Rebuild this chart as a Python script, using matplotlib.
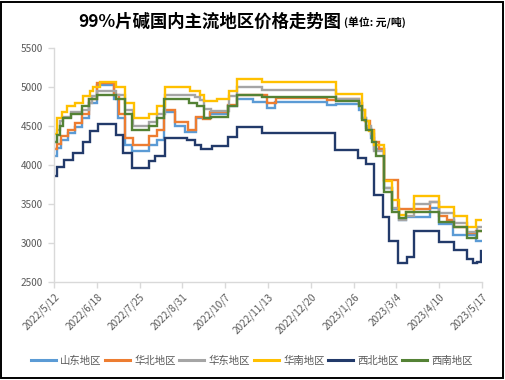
import numpy as np
import pandas as pd
import matplotlib
matplotlib.use("Agg")
import matplotlib.pyplot as plt
import matplotlib.dates as mdates
from matplotlib.patches import Rectangle
from matplotlib.transforms import ScaledTranslation

plt.rcParams['font.family'] = ['Noto Sans CJK SC', 'DejaVu Sans']

# ---------------- data ----------------
start_date = "2022-05-12"
end_date = "2023-05-17"
tick_dates = ["2022-05-12", "2022-06-18", "2022-07-25", "2022-08-31", "2022-10-07",
              "2022-11-13", "2022-12-20", "2023-01-26", "2023-03-04", "2023-04-10",
              "2023-05-17"]
tick_labels = ["2022/5/12", "2022/6/18", "2022/7/25", "2022/8/31", "2022/10/7",
               "2022/11/13", "2022/12/20", "2023/1/26", "2023/3/4", "2023/4/10",
               "2023/5/17"]
y_ticks = [2500, 3000, 3500, 4000, 4500, 5000, 5500]

series_names = ["山东地区", "华北地区", "华东地区", "华南地区", "西北地区", "西南地区"]

# price change points: day offset from 2022-05-12, new price (元/吨)
shandong_days = [0, 3, 6, 12, 18, 24, 30, 37, 52, 55, 61, 67, 82, 89, 95, 105, 113, 123,
                 135, 150, 158, 172, 184, 191, 236, 244, 264, 266, 270, 274, 277, 285,
                 292, 298, 304, 325, 333, 345, 365]
shandong_price = [4120, 4220, 4320, 4410, 4490, 4600, 4800, 5020, 4850, 4600, 4250, 4180,
                  4250, 4320, 4680, 4500, 4420, 4600, 4660, 4750, 4850, 4810, 4730, 4810,
                  4765, 4780, 4700, 4600, 4480, 4350, 4200, 3700, 3430, 3300, 3330, 3450,
                  3240, 3100, 3030]

huabei_days = [0, 3, 6, 12, 18, 24, 30, 37, 52, 56, 61, 68, 82, 89, 95, 105, 116, 123,
               129, 135, 150, 158, 184, 192, 236, 244, 264, 266, 269, 273, 277, 281, 285,
               297, 325, 333, 340, 346, 357, 365]
huabei_price = [4200, 4270, 4370, 4450, 4540, 4660, 4840, 5050, 4900, 4650, 4350, 4260,
                4370, 4450, 4700, 4550, 4450, 4620, 4590, 4680, 4770, 4900, 4790, 4860,
                4830, 4840, 4800, 4700, 4560, 4450, 4300, 4200, 3810, 3440, 3530, 3340,
                3300, 3200, 3130, 3150]

huadong_days = [0, 3, 5, 8, 15, 24, 30, 33, 37, 54, 61, 68, 82, 89, 96, 116, 122, 126,
                130, 136, 151, 158, 180, 244, 264, 266, 270, 274, 277, 285, 292, 298,
                304, 311, 325, 333, 346, 357, 366]
huadong_price = [4300, 4450, 4560, 4620, 4680, 4710, 4800, 4880, 4950, 4900, 4700, 4500,
                 4550, 4650, 4900, 4900, 4870, 4830, 4720, 4690, 4880, 5000, 4960, 4850,
                 4800, 4600, 4500, 4400, 4180, 3700, 3450, 3300, 3340, 3500, 3530, 3380,
                 3250, 3140, 3200]

huanan_days = [0, 3, 7, 11, 18, 25, 31, 34, 40, 54, 61, 69, 82, 89, 96, 118, 126, 130,
               141, 151, 158, 180, 244, 266, 269, 272, 277, 285, 292, 298, 304, 311, 333,
               346, 357, 365]
huanan_price = [4400, 4600, 4680, 4750, 4800, 4880, 4950, 5000, 5060, 5000, 4800, 4600,
                4650, 4750, 5000, 4950, 4900, 4820, 4850, 4950, 5100, 5060, 4910, 4710,
                4560, 4430, 4260, 3800, 3550, 3360, 3400, 3600, 3460, 3350, 3210, 3300]

xibei_days = [0, 3, 9, 16, 25, 31, 38, 54, 60, 67, 82, 87, 96, 115, 122, 127, 137, 150,
              158, 180, 243, 263, 270, 277, 284, 290, 297, 305, 311, 333, 346, 357, 362,
              366, 369]
xibei_price = [3860, 3980, 4070, 4160, 4290, 4430, 4520, 4380, 4150, 3960, 4050, 4110,
               4350, 4320, 4250, 4200, 4240, 4360, 4490, 4410, 4190, 4090, 4010, 3620,
               3330, 3030, 2740, 2820, 3160, 3010, 2910, 2800, 2740, 2760, 2900]

xinan_days = [0, 3, 5, 8, 15, 24, 30, 37, 54, 61, 67, 82, 89, 95, 117, 124, 130, 136,
              150, 158, 180, 244, 264, 266, 270, 275, 278, 285, 292, 298, 304, 333, 346,
              357, 366]
xinan_price = [4300, 4390, 4500, 4600, 4650, 4750, 4850, 4900, 4850, 4650, 4450, 4500,
               4600, 4850, 4800, 4750, 4600, 4620, 4750, 4900, 4870, 4820, 4750, 4580,
               4450, 4300, 4110, 3660, 3400, 3320, 3400, 3265, 3210, 3060, 3160]

series_days = [shandong_days, huabei_days, huadong_days, huanan_days, xibei_days, xinan_days]
series_price = [shandong_price, huabei_price, huadong_price, huanan_price, xibei_price, xinan_price]
colors = ["#5B9BD5", "#ED7D31", "#A5A5A5", "#FFC000", "#223A6A", "#548235"]

title_main = "99%片碱国内主流地区价格走势图"
title_unit = "(单位: 元/吨)"

# ---------------- figure ----------------
W, H = 506, 380
fig = plt.figure(figsize=(W / 100, H / 100), dpi=100)
fig.patch.set_facecolor("white")

ax = fig.add_axes([54 / W, 1 - 282 / H, 428 / W, 234 / H])

t0 = pd.Timestamp(start_date)
t_end = pd.Timestamp(end_date)
for name, days, price, c in zip(series_names, series_days, series_price, colors):
    x = [t0 + pd.Timedelta(days=int(d)) for d in days] + [t_end]
    y = list(price) + [price[-1]]
    ax.plot(x, y, drawstyle="steps-post", color=c, lw=1.7, label=name,
            solid_joinstyle="miter")

ax.set_xlim(t0, t_end)
ax.set_ylim(y_ticks[0], y_ticks[-1])
ax.set_yticks(y_ticks)
ax.set_yticklabels([str(v) for v in y_ticks])
ax.set_xticks([pd.Timestamp(d) for d in tick_dates])
ax.set_xticklabels(tick_labels, rotation=45, ha="right", va="top",
                   rotation_mode="anchor")
offset = ScaledTranslation(5 / 100, -2 / 100, fig.dpi_scale_trans)
for lab in ax.get_xticklabels():
    lab.set_transform(lab.get_transform() + offset)

for s in ["top", "right"]:
    ax.spines[s].set_visible(False)
for s in ["left", "bottom"]:
    ax.spines[s].set_color("#D9D9D9")
    ax.spines[s].set_linewidth(1.0)
ax.tick_params(axis="both", colors="#D9D9D9", length=4, width=1.0,
               labelcolor="#595959", labelsize=7.2)
ax.tick_params(axis="y", pad=4)
ax.tick_params(axis="x", pad=3)

# title
fig.text(341 / W, 1 - 22 / H, title_main, ha="right", va="center",
         fontsize=12.5, fontweight="bold", color="black")
fig.text(344 / W, 1 - 22.5 / H, title_unit, ha="left", va="center",
         fontsize=7.8, fontweight="bold", color="black")

# legend
leg = fig.legend(loc="center", bbox_to_anchor=(252 / W, 1 - 361 / H), ncol=6,
                 frameon=False, fontsize=7.5, handlelength=2.4, handletextpad=0.45,
                 columnspacing=0.3, borderaxespad=0)
for t in leg.get_texts():
    t.set_color("#595959")
for l in leg.get_lines():
    l.set_linewidth(2.2)

# outer frame
fig.add_artist(Rectangle((1 / W, 2.5 / H), 502.5 / W, 376 / H, transform=fig.transFigure,
                         fill=False, edgecolor="black", lw=1.4))

fig.savefig("out.png", dpi=100)
